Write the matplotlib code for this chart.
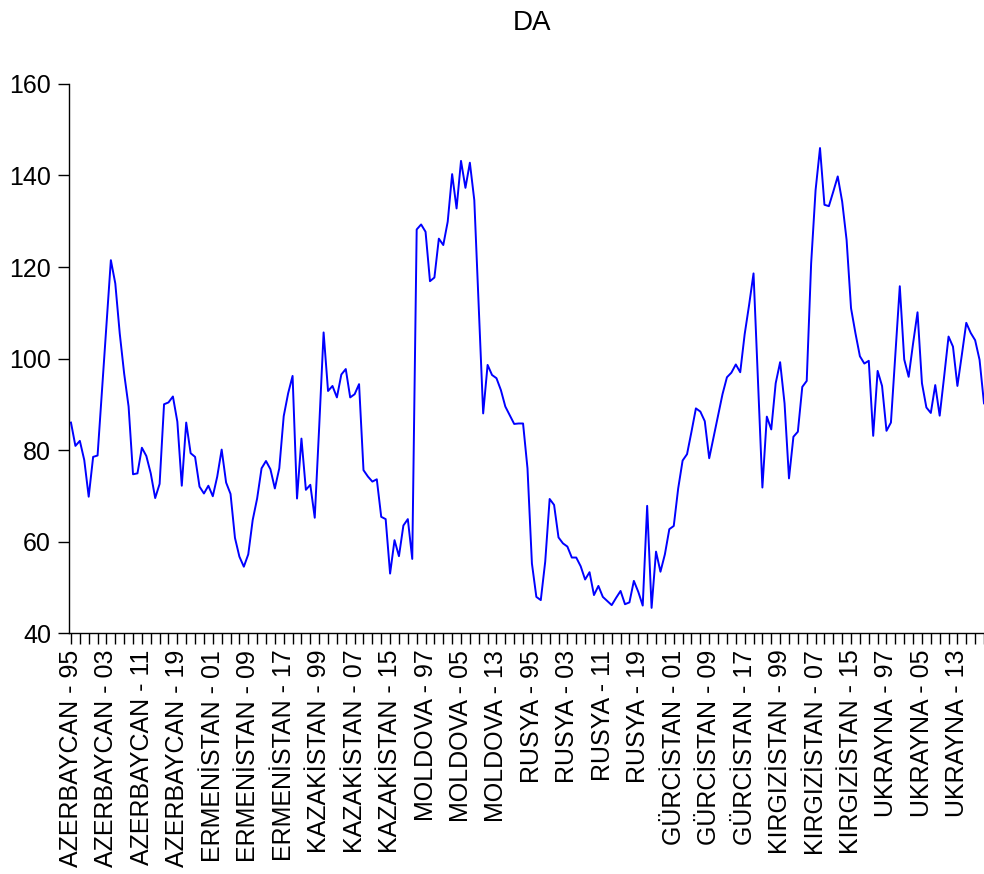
import numpy as np
from matplotlib import pyplot as plt

plt.rcParams['font.family'] = ['Liberation Sans', 'DejaVu Sans']

countries = ["AZERBAYCAN", "ERMENİSTAN", "KAZAKİSTAN", "MOLDOVA",
             "RUSYA", "GÜRCİSTAN", "KIRGIZİSTAN", "UKRAYNA"]
years = list(range(1995, 2021))

# DA values, country by country (UKRAYNA 2020 is outside the picture)
da_azerbaycan = [86.0, 80.9, 82.0, 77.8, 69.8, 78.5, 78.8, 93.0, 107.0, 121.5,
                 116.4, 105.5, 96.7, 89.5, 74.7, 74.9, 80.5, 78.7, 74.9, 69.5,
                 72.6, 90.0, 90.4, 91.7, 86.2, 72.2]
da_ermenistan = [86.0, 79.3, 78.5, 72.0, 70.5, 72.2, 69.9, 74.2, 80.1, 72.9,
                 70.4, 60.8, 56.7, 54.5, 57.2, 64.7, 69.4, 76.0, 77.6, 75.8,
                 71.6, 76.0, 87.4, 92.4, 96.2, 69.4]
da_kazakistan = [82.5, 71.3, 72.4, 65.2, 85.0, 105.7, 92.9, 94.0, 91.5, 96.5,
                 97.7, 91.5, 92.2, 94.4, 75.6, 74.2, 73.1, 73.6, 65.4, 64.9,
                 53.0, 60.3, 56.8, 63.5, 64.9, 56.2]
da_moldova = [128.2, 129.3, 127.7, 116.9, 117.7, 126.2, 124.8, 129.9, 140.3, 132.8,
              143.2, 137.3, 142.8, 134.6, 111.3, 88.0, 98.6, 96.4, 95.7, 93.1,
              89.5, 87.6, 85.7, 85.8, 85.8, 76.0]
da_rusya = [55.2, 47.9, 47.2, 55.6, 69.3, 68.0, 60.9, 59.6, 58.9, 56.5,
            56.5, 54.6, 51.7, 53.3, 48.3, 50.3, 47.9, 47.0, 46.1, 47.7,
            49.2, 46.3, 46.7, 51.4, 49.0, 46.0]
da_gurcistan = [67.8, 45.5, 57.8, 53.4, 57.2, 62.7, 63.4, 71.6, 77.7, 79.1,
                84.0, 89.1, 88.4, 86.3, 78.2, 82.9, 87.6, 92.2, 95.9, 96.9,
                98.7, 97.0, 105.3, 111.7, 118.6, 95.3]
da_kirgizistan = [71.8, 87.3, 84.5, 94.6, 99.2, 90.2, 73.8, 82.9, 84.0, 93.8,
                  95.1, 120.8, 136.8, 146.0, 133.6, 133.3, 136.5, 139.8, 134.3, 125.9,
                  111.0, 105.5, 100.5, 98.9, 99.5, 83.1]
da_ukrayna = [97.3, 94.0, 84.2, 86.0, 101.0, 115.8, 99.8, 96.0, 103.3, 110.1,
              94.6, 89.3, 88.1, 94.2, 87.5, 96.0, 104.8, 102.6, 94.0, 100.8,
              107.8, 105.6, 104.0, 99.7, 90.2]

da = (da_azerbaycan + da_ermenistan + da_kazakistan + da_moldova +
      da_rusya + da_gurcistan + da_kirgizistan + da_ukrayna)

labels = [f"{c} - {str(y)[2:]}" for c in countries for y in years]

fig = plt.figure(figsize=(9.84, 8.74), dpi=100)
ax = fig.add_axes([0.0701, 0.2757, 0.9299, 0.6282])

x = np.arange(len(da))
ax.plot(x, da, color='#0000ff', linewidth=1.4)

ax.set_xlim(-0.45, len(da) - 1)
ax.set_ylim(40, 160)
ax.set_yticks([40, 60, 80, 100, 120, 140, 160])

major = np.arange(0, len(labels), 8)
ax.set_xticks(major)
ax.set_xticklabels([labels[i] for i in major], rotation=90)
ax.set_xticks(np.arange(0, len(labels), 2), minor=True)

ax.tick_params(axis='both', direction='out', labelsize=18, color='black')
ax.tick_params(axis='x', which='both', length=8, width=1, pad=4)
ax.tick_params(axis='y', length=8, width=1, pad=5)

for s in ['top', 'right']:
    ax.spines[s].set_visible(False)
for s in ['left', 'bottom']:
    ax.spines[s].set_linewidth(1)

fig.text(0.541, 0.988, "DA", ha='center', va='top', fontsize=20)

fig.savefig("out.png", dpi=100)
